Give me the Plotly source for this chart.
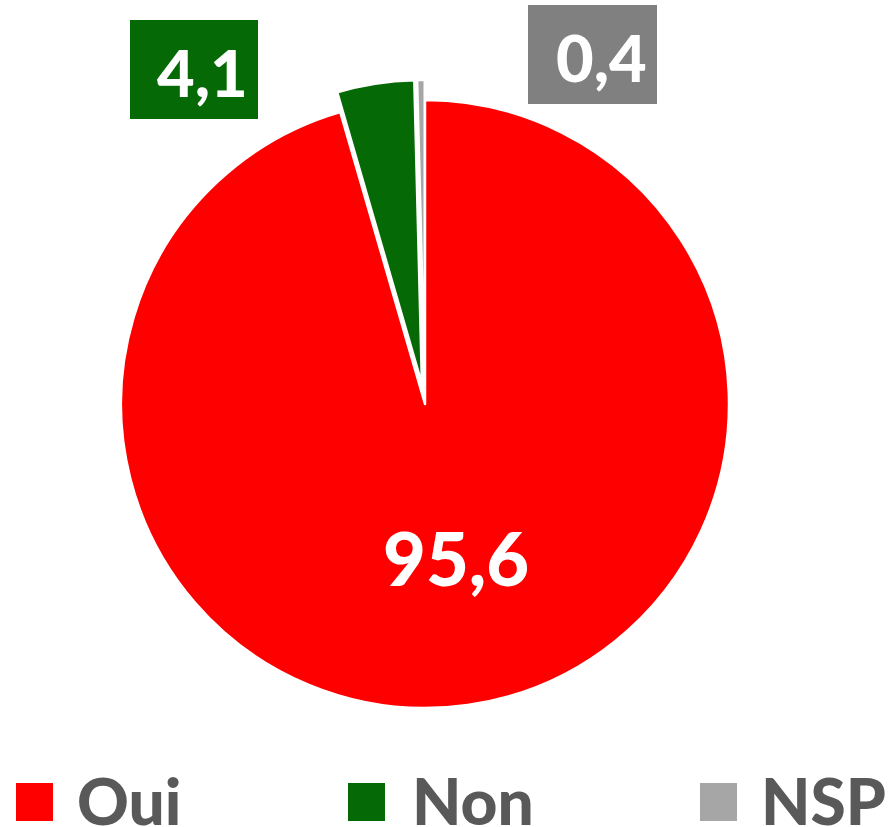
import plotly.graph_objects as go

# ---- data ----
labels = ["Oui", "Non", "NSP"]
values = [95.6, 4.1, 0.4]
slice_colors = ["#FF0000", "#056905", "#A6A6A6"]
label_box_colors = [None, "#056905", "#808080"]
pulls = [0, 0.066, 0.066]

W, H = 888, 827
FONT = "Lato, 'Open Sans', sans-serif"


def px(x):
    return x / W


def py(y):
    return 1 - y / H


def fmt(v):
    return f"{v:.1f}".replace(".", ",")


# pie geometry (center 425,404 ; radius 304 ; pull extends box)
cx, cy, r = 425, 404, 304
half = r * (1 + max(pulls))

fig = go.Figure(
    go.Pie(
        labels=labels,
        values=values,
        sort=False,
        direction="clockwise",
        rotation=0,
        pull=pulls,
        marker=dict(colors=slice_colors, line=dict(color="white", width=2.5)),
        textinfo="none",
        hoverinfo="label+value",
        showlegend=False,
        domain=dict(x=[px(cx - half), px(cx + half)],
                    y=[py(cy + half), py(cy - half)]),
    )
)

shapes = []
annotations = []

# value labels
label_pos = [(456, 557), (202, 71.5), (601, 57)]
label_sizes = [74, 65, 65]
label_boxes = [None, (130, 20, 258, 119), (528, 5, 657, 104)]
for i, v in enumerate(values):
    if label_boxes[i] is not None:
        x0, y0, x1, y1 = label_boxes[i]
        shapes.append(dict(type="rect", xref="paper", yref="paper",
                           x0=px(x0), x1=px(x1), y0=py(y1), y1=py(y0),
                           fillcolor=label_box_colors[i], line=dict(width=0),
                           layer="above"))
    lx, ly = label_pos[i]
    annotations.append(dict(text=fmt(v), x=px(lx), y=py(ly),
                            xref="paper", yref="paper", showarrow=False,
                            xanchor="center", yanchor="middle",
                            font=dict(family=FONT, size=label_sizes[i], color="white",
                                      weight=900)))

# custom legend
leg_sq_x = [16, 348, 700]
leg_txt_x = [75, 410, 759]
for i, lab in enumerate(labels):
    shapes.append(dict(type="rect", xref="paper", yref="paper",
                       x0=px(leg_sq_x[i]), x1=px(leg_sq_x[i] + 37),
                       y0=py(821), y1=py(783),
                       fillcolor=slice_colors[i], line=dict(width=0)))
    annotations.append(dict(text=lab, x=px(leg_txt_x[i]), y=py(800),
                            xref="paper", yref="paper", showarrow=False,
                            xanchor="left", yanchor="middle", height=52,
                            font=dict(family=FONT, size=64, color="#595959",
                                      weight=900)))

fig.update_layout(
    width=W, height=H,
    margin=dict(l=0, r=0, t=0, b=0),
    paper_bgcolor="white",
    plot_bgcolor="white",
    shapes=shapes,
    annotations=annotations,
    showlegend=False,
)

fig.write_html("out.html",
               config={"displayModeBar": False},
               post_script="document.body.style.margin='0';document.body.style.overflow='hidden';")
